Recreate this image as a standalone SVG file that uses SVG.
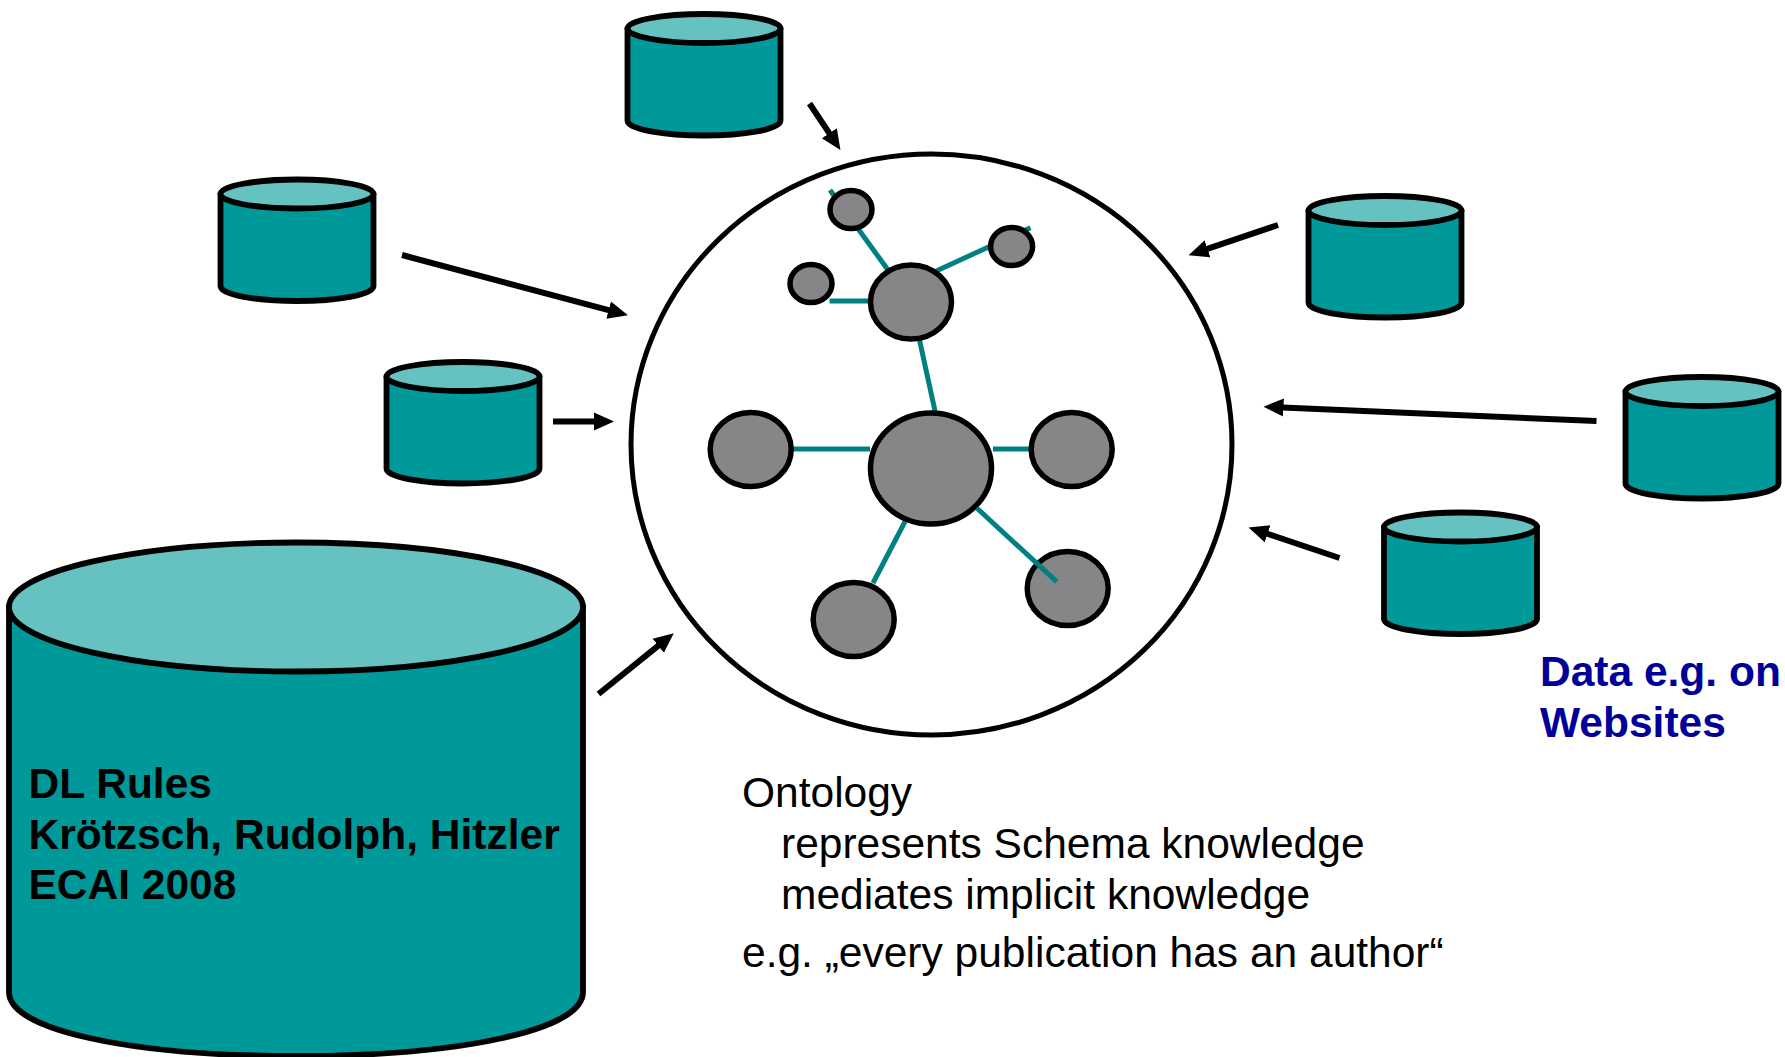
<svg xmlns="http://www.w3.org/2000/svg" width="1785" height="1057" viewBox="0 0 1785 1057">
<style>
.body{fill:#009999;stroke:#000;stroke-width:5.8;stroke-linejoin:round}
.top{fill:#66C1C1;stroke:#000;stroke-width:5.8}
.ball{fill:#868588;stroke:#000;stroke-width:5.5}
.edge{stroke:#008080;stroke-width:5;fill:none}
.arrow{stroke:#000;stroke-width:6;fill:none;marker-end:url(#head)}
text{font-family:"Liberation Sans",Arial,sans-serif;font-size:42.5px}
.b{font-weight:700}
.blue{fill:#000099}
</style>
<defs>
<marker id="head" markerUnits="userSpaceOnUse" markerWidth="22" markerHeight="20" refX="1" refY="9" orient="auto" viewBox="0 0 22 18">
<path d="M0,0 L20,9 L0,18 z" fill="#000"/>
</marker>
<g id="cyl">
<path class="body" d="M-76.5,0 V92 C-76.5,101 -40,107 0,107 C40,107 76.5,101 76.5,92 V0 z"/>
<ellipse class="top" cx="0" cy="0" rx="76.5" ry="14.5"/>
</g>
</defs>
<rect width="1785" height="1057" fill="#fff"/>
<g id="ontology-circle"><ellipse cx="931.5" cy="444.5" rx="300.5" ry="290.5" fill="#fff" stroke="#000" stroke-width="5"/></g>
<g id="connectors">
<g id="ontology-edges">
<path class="edge" d="M830,190 L888,270"/>
<path class="edge" d="M1030.5,227.7 L936.8,270.7"/>
<path class="edge" d="M829.6,301 H870"/>
<path class="edge" d="M919.5,340 L935,411"/>
<path class="edge" d="M792,449 H870"/>
<path class="edge" d="M993,449 H1030"/>
<path class="edge" d="M905,521.7 L873,583"/>
</g>
<g id="arrows">
<path class="arrow" d="M809.5,103.5 L829.9,134.1"/>
<path class="arrow" d="M402,255 L609.6,310.4"/>
<path class="arrow" d="M553,421.5 H595"/>
<path class="arrow" d="M1278,225 L1206.6,249.2"/>
<path class="arrow" d="M1596.5,421 L1282.5,407.5"/>
<path class="arrow" d="M1339.5,558 L1266.6,533.5"/>
<path class="arrow" d="M598.5,694 L659,645.1"/>
</g>
</g>
<g id="node-center"><ellipse class="ball" cx="931" cy="468.5" rx="60.5" ry="55.5"/></g>
<g id="node-hub"><ellipse class="ball" cx="911" cy="302" rx="40.5" ry="37"/></g>
<g id="node-small-a"><ellipse class="ball" cx="851" cy="209.5" rx="21" ry="19"/></g>
<g id="node-small-b"><ellipse class="ball" cx="1011.6" cy="246.5" rx="21" ry="19"/></g>
<g id="node-small-c"><ellipse class="ball" cx="811" cy="283.5" rx="21" ry="19"/></g>
<g id="node-left"><ellipse class="ball" cx="750.7" cy="449.5" rx="40.5" ry="37"/></g>
<g id="node-right"><ellipse class="ball" cx="1071.7" cy="449.5" rx="40.5" ry="37"/></g>
<g id="node-lower-left"><ellipse class="ball" cx="853.7" cy="619.5" rx="40.5" ry="37"/></g>
<g id="node-lower-right"><ellipse class="ball" cx="1067.7" cy="588.5" rx="40.5" ry="37"/></g>
<path class="edge" d="M976.7,508 L1056.7,581.7"/>
<g id="db-top"><use href="#cyl" x="704" y="28.5"/></g>
<g id="db-left-1"><use href="#cyl" x="297" y="194"/></g>
<g id="db-left-2"><use href="#cyl" x="463" y="376.5"/></g>
<g id="db-right-1"><use href="#cyl" x="1385" y="210.5"/></g>
<g id="db-right-2"><use href="#cyl" x="1702" y="391.5"/></g>
<g id="db-right-3"><use href="#cyl" x="1460.5" y="527"/></g>
<g id="db-large">
<path class="body" d="M9,606.5 V992 C9,1030 130,1056 296,1056 C462,1056 583,1030 583,992 V606.5 z"/>
<ellipse class="top" cx="296" cy="607" rx="287" ry="64.5"/>
<text class="b" x="28.5" y="798">DL Rules</text>
<text class="b" x="28.5" y="848.5">Krötzsch, Rudolph, Hitzler</text>
<text class="b" x="28.5" y="899">ECAI 2008</text>
</g>
<g id="label-data">
<text class="b blue" x="1540" y="686">Data e.g. on</text>
<text class="b blue" x="1540" y="737">Websites</text>
</g>
<g id="label-ontology">
<text x="742" y="806.5">Ontology</text>
<text x="781" y="858">represents Schema knowledge</text>
<text x="781" y="909">mediates implicit knowledge</text>
<text x="742" y="967">e.g. „every publication has an author“</text>
</g>
</svg>
